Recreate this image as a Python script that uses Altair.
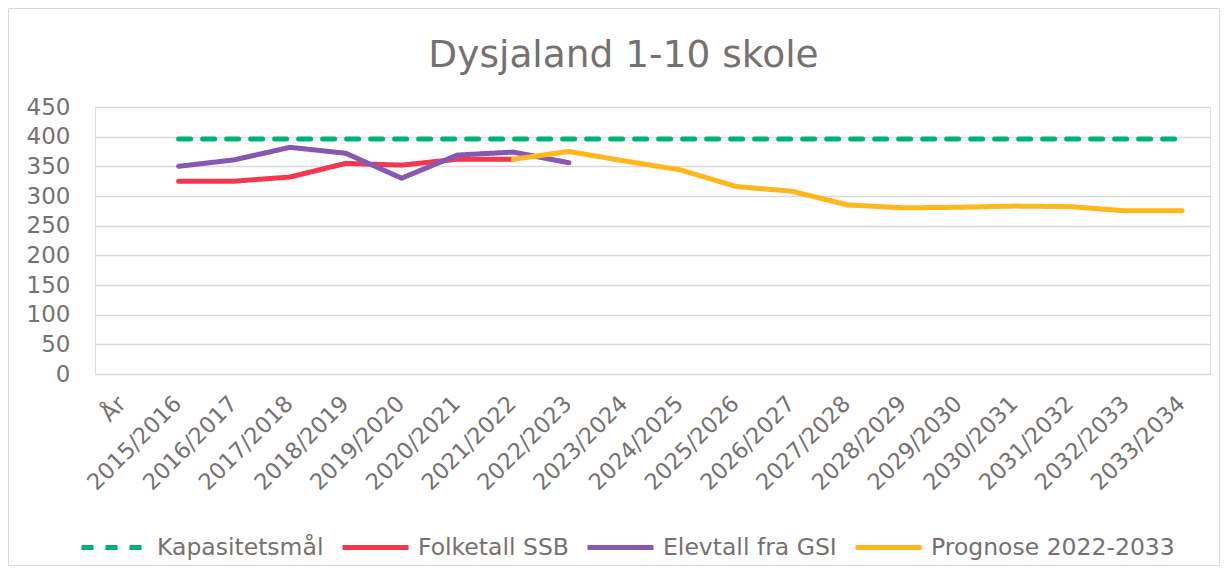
import altair as alt
import pandas as pd

categories = ["År", "2015/2016", "2016/2017", "2017/2018", "2018/2019", "2019/2020",
              "2020/2021", "2021/2022", "2022/2023", "2023/2024", "2024/2025",
              "2025/2026", "2026/2027", "2027/2028", "2028/2029", "2029/2030",
              "2030/2031", "2031/2032", "2032/2033", "2033/2034"]

kapasitet_periods = categories[1:]
kapasitet_values = [396] * 19

folketall_periods = ["2015/2016", "2016/2017", "2017/2018", "2018/2019", "2019/2020",
                     "2020/2021", "2021/2022"]
folketall_values = [325, 325, 332, 355, 352, 362, 362]

elevtall_periods = ["2015/2016", "2016/2017", "2017/2018", "2018/2019", "2019/2020",
                    "2020/2021", "2021/2022", "2022/2023"]
elevtall_values = [350, 361, 382, 372, 330, 369, 374, 356]

prognose_periods = ["2021/2022", "2022/2023", "2023/2024", "2024/2025", "2025/2026",
                    "2026/2027", "2027/2028", "2028/2029", "2029/2030", "2030/2031",
                    "2031/2032", "2032/2033", "2033/2034"]
prognose_values = [362, 375, 359, 344, 316, 308, 285, 280, 281, 283, 282, 275, 275]

series_names = ["Kapasitetsmål", "Folketall SSB", "Elevtall fra GSI", "Prognose 2022-2033"]
series_colors = ["#00B274", "#F5364F", "#8757B4", "#FFB71B"]
series_dashes = [[12, 12], [1, 0], [1, 0], [1, 0]]

rows = []
for name, periods, values in [
    (series_names[0], kapasitet_periods, kapasitet_values),
    (series_names[1], folketall_periods, folketall_values),
    (series_names[2], elevtall_periods, elevtall_values),
    (series_names[3], prognose_periods, prognose_values),
]:
    for p, v in zip(periods, values):
        rows.append({"series": name, "period": p, "value": v})
df = pd.DataFrame(rows)

TEXT = "#767171"
FONT = "DejaVu Sans"

legend = alt.Legend(
    title=None, orient="none", legendX=-16, legendY=405, direction="horizontal",
    symbolType="stroke", symbolSize=4356, symbolStrokeWidth=5,
    labelFontSize=23.5, labelFont=FONT, labelColor=TEXT, labelOffset=7, labelLimit=500,
    columnPadding=8, padding=0,
)

x_enc = alt.X("period:N", sort=categories,
              scale=alt.Scale(type="point", padding=0.5, domain=categories),
              axis=alt.Axis(title=None, labelAngle=-45, labelFontSize=22.5, labelFont=FONT,
                            labelColor=TEXT, ticks=False, domain=False, grid=False,
                            labelPadding=18, labelOffset=-9))
y_enc = alt.Y("value:Q", scale=alt.Scale(domain=[0, 450], nice=False),
              axis=alt.Axis(title=None, values=list(range(0, 451, 50)), labelFontSize=23,
                            labelFont=FONT, labelColor=TEXT, ticks=False, domain=False,
                            grid=True, gridColor="#D9D9D9", gridWidth=1.5, labelPadding=25))
color_enc = alt.Color("series:N", scale=alt.Scale(domain=series_names, range=series_colors),
                      legend=legend)
dash_enc = alt.StrokeDash("series:N", scale=alt.Scale(domain=series_names, range=series_dashes),
                          legend=legend)

frame = alt.Chart(pd.DataFrame({"a": [0]})).mark_rect(
    fillOpacity=0, stroke="#D9D9D9", strokeWidth=1
).encode(x=alt.value(-86.5), x2=alt.value(1124.5), y=alt.value(-98.5), y2=alt.value(458.5))

layers = [frame]
for name in series_names:
    layers.append(
        alt.Chart(df).transform_filter(alt.datum.series == name)
        .mark_line(strokeWidth=5, strokeCap="round", strokeJoin="round")
        .encode(x=x_enc, y=y_enc, color=color_enc, strokeDash=dash_enc)
    )

chart = alt.layer(*layers).properties(
    width=1115, height=267,
    padding=0,
    title=alt.Title("Dysjaland 1-10 skole", fontSize=37.5, font=FONT, color=TEXT,
                    fontWeight="normal", anchor="middle", dx=-29, offset=-66),
).configure_view(stroke=None).configure(background="white")

chart.save("out.html", embed_options={"renderer": "svg", "actions": False})
